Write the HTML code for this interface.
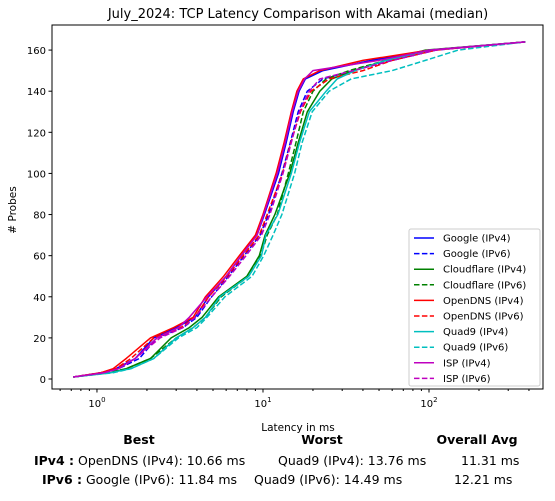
<!DOCTYPE html>
<html><head><meta charset="utf-8"><style>
body{margin:0;background:#fff;font-family:"Liberation Sans","DejaVu Sans",sans-serif}
svg text{font-family:"DejaVu Sans","Liberation Sans",sans-serif}
</style></head><body>
<svg id="c" width="555" height="496" xmlns="http://www.w3.org/2000/svg">
<rect x="0" y="0" width="555" height="496" fill="#fff"/>
<text x="298" y="18" text-anchor="middle" font-size="13">July_2024: TCP Latency Comparison with Akamai (median)</text>
<g id="plot"></g>
<text x="298" y="431" text-anchor="middle" font-size="10.5">Latency in ms</text>
<text x="16" y="210" text-anchor="middle" font-size="10.5" transform="rotate(-90 16 210)"># Probes</text>
<g font-size="12.5">
<text x="139" y="444" text-anchor="middle" font-weight="bold">Best</text>
<text x="322" y="444" text-anchor="middle" font-weight="bold">Worst</text>
<text x="477" y="444" text-anchor="middle" font-weight="bold">Overall Avg</text>
<text x="34" y="465"><tspan font-weight="bold">IPv4 :</tspan> OpenDNS (IPv4): 10.66 ms</text>
<text x="278" y="465">Quad9 (IPv4): 13.76 ms</text>
<text x="461" y="465">11.31 ms</text>
<text x="42" y="484"><tspan font-weight="bold">IPv6 :</tspan> Google (IPv6): 11.84 ms</text>
<text x="254" y="484">Quad9 (IPv6): 14.49 ms</text>
<text x="454" y="484">12.21 ms</text>
</g>
</svg>
<script>
const probes = [1,3,5,10,20,25,30,40,50,60,70,80,100,115,130,140,146,150,155,160,164];
const seriesNames = ["Google (IPv4)","Google (IPv6)","Cloudflare (IPv4)","Cloudflare (IPv6)","OpenDNS (IPv4)","OpenDNS (IPv6)","Quad9 (IPv4)","Quad9 (IPv6)","ISP (IPv4)","ISP (IPv6)"];
const googleV4 = [0.72,1.1,1.3,1.7,2.2,3.0,3.9,4.7,6.0,7.4,9.2,10.2,12.4,13.8,15.2,16.5,18,23,45,100,380];
const googleV6 = [0.72,1.05,1.35,1.8,2.3,3.3,4.0,4.9,6.2,7.7,9.6,10.8,13.0,14.6,16.3,18.5,23,35,60,110,380];
const cloudV4 = [0.72,1.2,1.5,2.1,2.8,3.6,4.3,5.4,8.0,9.5,10.3,11.8,14.5,16.3,18.5,22,26,35,55,95,380];
const cloudV6 = [0.72,1.15,1.5,2.1,3.0,3.8,4.5,5.6,8.2,9.7,10.6,12.2,14.2,15.8,17.5,20,24,33,55,100,380];
const openV4 = [0.72,1.05,1.25,1.5,2.1,2.9,3.8,4.5,5.8,7.2,9.0,10.0,12.0,13.4,14.8,16.0,17.5,22,40,100,380];
const openV6 = [0.72,1.05,1.3,1.6,2.2,3.2,3.9,4.7,6.1,7.6,9.5,10.6,13.1,14.7,16.8,19.5,25,40,60,110,380];
const quad9V4 = [0.72,1.2,1.6,2.2,3.0,3.8,4.5,5.5,8.2,9.8,10.4,12.3,14.8,16.6,19.0,24,28,36,55,100,380];
const quad9V6 = [0.72,1.25,1.6,2.2,3.1,4.0,4.6,5.9,8.6,10.1,11.5,13.0,15.5,17.2,19.8,25,34,60,95,150,380];
const ispV4 = [0.72,1.1,1.35,1.7,2.3,3.1,3.6,4.6,6.0,7.4,9.2,10.1,12.2,13.6,15.0,16.3,17.8,20,50,100,380];
const ispV6 = [0.72,1.1,1.35,1.7,2.4,3.3,3.9,4.9,6.3,7.9,9.8,11.0,13.2,14.8,16.6,19,22,35,60,110,380];
const seriesData = [googleV4,googleV6,cloudV4,cloudV6,openV4,openV6,quad9V4,quad9V6,ispV4,ispV6];
const colors = ["#0000ff","#0000ff","#008000","#008000","#ff0000","#ff0000","#00bfbf","#00bfbf","#bf00bf","#bf00bf"];
const yTicks = [0,20,40,60,80,100,120,140,160];
const xMajor = [1,10,100];

const L=52,R=543,T=25,B=389;
const xMin=0.536,xMax=486, yMin=-4.86, yMax=172.2;
const NS="http://www.w3.org/2000/svg";
function xs(v){return L+(Math.log10(v)-Math.log10(xMin))/(Math.log10(xMax)-Math.log10(xMin))*(R-L);}
function ys(v){return B-(v-yMin)/(yMax-yMin)*(B-T);}
const g=document.getElementById('plot');
function mk(tag,attrs,parent){const e=document.createElementNS(NS,tag);for(const k in attrs)e.setAttribute(k,attrs[k]);(parent||g).appendChild(e);return e;}

seriesData.forEach((arr,i)=>{
  const d=arr.map((v,j)=>(j?'L':'M')+xs(v).toFixed(1)+','+ys(probes[j]).toFixed(1)).join(' ');
  const p=mk('path',{d:d,fill:'none',stroke:colors[i],'stroke-width':1.5});
  if(i%2===1)p.setAttribute('stroke-dasharray','5.5,2.4');
  
  
});
const frame=mk('rect',{x:L,y:T,width:R-L,height:B-T,fill:'none',stroke:'#000','stroke-width':1});


yTicks.forEach(t=>{
  const y=ys(t);
  const tk=mk('line',{x1:L-3.5,x2:L,y1:y,y2:y,stroke:'#000'});
  
  
  const tx=mk('text',{x:L-6,y:y+4,'text-anchor':'end','font-size':10});
  tx.textContent=t;
  
  
});
for(let dec=-1;dec<=2;dec++){for(let m=1;m<10;m++){const v=m*Math.pow(10,dec);if(v<xMin||v>xMax)continue;const x=xs(v);
  const tk=mk('line',{x1:x,x2:x,y1:B,y2:B+(m===1?3.5:2),stroke:'#000'});
  
  }}
xMajor.forEach((v,i)=>{
  const tx=mk('text',{x:xs(v),y:B+18,'text-anchor':'middle','font-size':10});
  tx.innerHTML='10<tspan dy="-5" font-size="7">'+Math.round(Math.log10(v))+'</tspan>';
  
  
});
const lg=mk('g',{});


mk('rect',{x:409,y:229,width:131,height:157,fill:'#fff',stroke:'#ccc',rx:2},lg);
seriesNames.forEach((n,i)=>{
  const y=238+i*15.6;
  const ln=mk('line',{x1:414,x2:434,y1:y,y2:y,stroke:colors[i],'stroke-width':1.5},lg);
  if(i%2===1)ln.setAttribute('stroke-dasharray','5.5,2.4');
  
  
  const t=mk('text',{x:443,y:y+3.5,'font-size':10},lg);
  t.textContent=n;
  
  
});
</script>
</body></html>
